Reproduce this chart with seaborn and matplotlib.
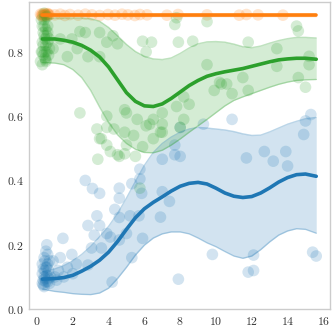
import numpy as np
import pandas as pd
import seaborn as sns
import matplotlib
matplotlib.use("Agg")
import matplotlib.pyplot as plt
from matplotlib.ticker import FuncFormatter

# ---- fitted curves (x grid, mean, lower, upper) ----
curve_x = [0.3, 1, 1.5, 2, 2.5, 3, 3.5, 4, 4.5, 5, 5.5, 6, 6.5, 7, 7.5, 8, 8.5,
           9, 9.5, 10, 10.5, 11, 11.5, 12, 12.5, 13, 13.5, 14, 14.5, 15, 15.6]

blue_mean = [0.093, 0.095, 0.098, 0.105, 0.118, 0.133, 0.152, 0.177, 0.21, 0.248, 0.284,
             0.312, 0.332, 0.349, 0.367, 0.382, 0.391, 0.394, 0.389, 0.376, 0.361, 0.351,
             0.347, 0.35, 0.361, 0.377, 0.395, 0.409, 0.418, 0.42, 0.413]
blue_lo = [0.062, 0.055, 0.052, 0.048, 0.046, 0.045, 0.05, 0.065, 0.095, 0.13, 0.168,
           0.199, 0.221, 0.234, 0.24, 0.24, 0.234, 0.221, 0.206, 0.194, 0.179, 0.165,
           0.158, 0.165, 0.185, 0.209, 0.23, 0.243, 0.25, 0.248, 0.236]
blue_hi = [0.115, 0.125, 0.135, 0.15, 0.17, 0.195, 0.225, 0.257, 0.297, 0.345, 0.397,
           0.447, 0.487, 0.515, 0.535, 0.55, 0.56, 0.565, 0.563, 0.56, 0.557, 0.552,
           0.545, 0.54, 0.541, 0.551, 0.563, 0.575, 0.584, 0.592, 0.596]

orange_mean = [0.915] * len(curve_x)
orange_lo = [0.911] * len(curve_x)
orange_hi = [0.919] * len(curve_x)

green_mean = [0.84, 0.84, 0.836, 0.83, 0.82, 0.805, 0.784, 0.753, 0.713, 0.673, 0.646,
              0.632, 0.63, 0.638, 0.655, 0.675, 0.695, 0.711, 0.724, 0.732, 0.738, 0.743,
              0.748, 0.755, 0.762, 0.769, 0.775, 0.778, 0.78, 0.78, 0.777]
green_lo = [0.767, 0.765, 0.76, 0.745, 0.72, 0.68, 0.628, 0.58, 0.542, 0.515, 0.497,
            0.487, 0.486, 0.494, 0.51, 0.529, 0.55, 0.57, 0.59, 0.611, 0.632, 0.649,
            0.66, 0.67, 0.68, 0.69, 0.699, 0.706, 0.711, 0.713, 0.714]
green_hi = [0.90, 0.905, 0.905, 0.905, 0.905, 0.903, 0.895, 0.876, 0.85, 0.823, 0.801,
            0.786, 0.778, 0.776, 0.781, 0.795, 0.812, 0.825, 0.831, 0.832, 0.83, 0.824,
            0.816, 0.813, 0.818, 0.827, 0.835, 0.841, 0.845, 0.845, 0.843]

# ---- observed points ----
blue_x = [0.3, 0.35, 0.4, 0.45, 0.5, 0.3, 0.6, 0.4, 0.5, 0.55, 0.35, 0.65, 0.45, 0.6,
          0.55, 0.7, 0.3, 0.4, 0.5, 0.65, 0.75, 0.35, 0.45, 0.55, 0.6, 0.7,
          1.0, 1.2, 1.3, 1.45, 1.5, 1.7, 1.95, 2.2, 0.9, 1.1, 2.0,
          2.7, 3.1, 3.5, 3.35, 2.85, 3.2, 3.5, 2.85, 3.6, 3.05, 4.1, 3.9, 4.35, 4.6,
          4.6, 5.3, 5.85, 4.6, 5.0, 4.6, 5.3, 4.2, 5.9, 6.9, 5.7, 5.2, 7.4, 9.8,
          7.9, 9.3, 8.0, 7.7, 7.7, 8.0, 7.0, 5.75, 5.75, 7.0, 10.9, 15.3, 15.0,
          14.9, 11.7, 12.7, 13.2, 13.9, 14.0, 12.1, 11.8, 12.1, 15.4, 15.6]
blue_y = [0.08, 0.09, 0.1, 0.12, 0.13, 0.11, 0.14, 0.07, 0.085, 0.105, 0.125, 0.095,
          0.15, 0.17, 0.2, 0.08, 0.14, 0.16, 0.18, 0.12, 0.1, 0.075, 0.095, 0.13,
          0.085, 0.15,
          0.1, 0.12, 0.16, 0.22, 0.1, 0.13, 0.17, 0.14, 0.15, 0.09, 0.11,
          0.40, 0.375, 0.36, 0.29, 0.26, 0.23, 0.26, 0.137, 0.19, 0.19, 0.224, 0.235,
          0.31, 0.345, 0.376, 0.39, 0.36, 0.285, 0.235, 0.215, 0.16, 0.084, 0.22,
          0.286, 0.29, 0.29, 0.335, 0.17, 0.093, 0.575, 0.565, 0.51, 0.48, 0.475,
          0.466, 0.435, 0.405, 0.365, 0.59, 0.605, 0.585, 0.543, 0.47, 0.49, 0.46,
          0.49, 0.445, 0.168, 0.115, 0.12, 0.177, 0.165]

orange_x = [0.2, 0.25, 0.3, 0.35, 0.4, 0.45, 0.5, 0.55, 0.6, 0.65, 0.7, 0.3, 0.45,
            0.6, 1.0, 1.3, 1.56, 1.84, 2.3, 2.7, 3.07, 3.5, 3.97, 4.36, 4.75, 5.08,
            5.47, 5.75, 6.15, 7.26, 7.88, 9.5, 11.3, 11.7, 12.35, 13.74]
orange_y = [0.917, 0.913, 0.918, 0.915, 0.912, 0.919, 0.916, 0.913, 0.917, 0.914,
            0.916, 0.911, 0.914, 0.919, 0.915, 0.917, 0.913, 0.916, 0.914, 0.917,
            0.915, 0.913, 0.916, 0.914, 0.917, 0.915, 0.913, 0.916, 0.915, 0.914,
            0.916, 0.915, 0.914, 0.916, 0.915, 0.914]

green_x = [0.2, 0.25, 0.3, 0.35, 0.4, 0.45, 0.5, 0.55, 0.6, 0.65, 0.7, 0.3, 0.35,
           0.4, 0.45, 0.5, 0.55, 0.6, 0.25, 0.3, 0.4, 0.5, 0.6, 0.7, 0.35, 0.45, 0.55,
           0.4, 0.3, 0.5,
           2.4, 2.7, 1.95, 3.5, 3.9, 4.25, 4.5, 2.25, 2.85, 3.5, 1.7, 1.3, 0.9, 5.9,
           6.4, 6.1, 2.4, 3.35, 3.9, 3.5, 3.9, 4.1, 4.5, 5.0, 5.4, 5.0, 5.6, 3.9,
           6.1, 6.5, 6.9, 7.0, 3.6, 3.4, 4.6, 4.9, 4.3, 4.9, 4.9, 7.8, 7.7, 9.5,
           7.9, 8.7, 9.5, 10.2, 9.9, 10.6, 8.2, 8.5, 7.8, 6.3, 7.0, 7.0, 6.5, 5.9,
           5.5, 8.2, 8.0, 11.8, 13.4, 14.5, 14.6, 15.2, 15.2, 14.6, 15.0, 13.4,
           11.5, 11.8, 10.9, 10.3, 5.75]
green_y = [0.77, 0.8, 0.83, 0.86, 0.9, 0.78, 0.82, 0.85, 0.88, 0.79, 0.81, 0.76,
           0.79, 0.92, 0.84, 0.87, 0.8, 0.83, 0.9, 0.88, 0.88, 0.775, 0.86, 0.84,
           0.82, 0.8, 0.91, 0.85, 0.8, 0.77,
           0.863, 0.86, 0.84, 0.86, 0.83, 0.85, 0.825, 0.81, 0.785, 0.785, 0.785,
           0.84, 0.81, 0.833, 0.83, 0.80, 0.61, 0.56, 0.565, 0.53, 0.51, 0.49, 0.48,
           0.51, 0.54, 0.61, 0.59, 0.60, 0.57, 0.59, 0.55, 0.61, 0.53, 0.466, 0.475,
           0.483, 0.56, 0.55, 0.62, 0.906, 0.885, 0.894, 0.83, 0.833, 0.76, 0.705,
           0.68, 0.70, 0.66, 0.637, 0.63, 0.575, 0.575, 0.55, 0.53, 0.505, 0.475,
           0.59, 0.565, 0.83, 0.81, 0.88, 0.865, 0.786, 0.76, 0.72, 0.69, 0.755,
           0.72, 0.68, 0.67, 0.70, 0.376]

colors = sns.color_palette("tab10")
series = [
    (blue_x, blue_y, blue_mean, blue_lo, blue_hi, colors[0]),
    (orange_x, orange_y, orange_mean, orange_lo, orange_hi, colors[1]),
    (green_x, green_y, green_mean, green_lo, green_hi, colors[2]),
]

sns.set_style("white")
plt.rcParams["mathtext.fontset"] = "cm"

fig, ax = plt.subplots(figsize=(3.32, 3.32), dpi=100)
fig.subplots_adjust(left=0.087, right=0.994, top=0.994, bottom=0.069)

# scatter of raw observations
for px, py, mean, lo, hi, c in series:
    sns.scatterplot(x=px, y=py, color=c, alpha=0.2, s=70, linewidth=0,
                    edgecolor="none", ax=ax)

# confidence bands + mean curves
for px, py, mean, lo, hi, c in series:
    ax.fill_between(curve_x, lo, hi, color=c, alpha=0.2, linewidth=0)
    ax.plot(curve_x, lo, color=c, alpha=0.3, lw=1)
    ax.plot(curve_x, hi, color=c, alpha=0.3, lw=1)
    sns.lineplot(x=curve_x, y=mean, color=c, lw=2.6, ax=ax)

ax.set_xlim(-0.45, 16.37)
ax.set_ylim(0, 0.955)
ax.set_xticks(range(0, 17, 2))
ax.set_yticks([0, 0.2, 0.4, 0.6, 0.8])
ax.xaxis.set_major_formatter(FuncFormatter(lambda v, p: r"$%d$" % v))
ax.yaxis.set_major_formatter(FuncFormatter(lambda v, p: r"$%.1f$" % v))
ax.tick_params(axis="both", labelsize=8.5, length=0, pad=4, colors="#333333")
for s in ax.spines.values():
    s.set_color("#cccccc")
    s.set_linewidth(1)

plt.savefig("out.png", dpi=100)
